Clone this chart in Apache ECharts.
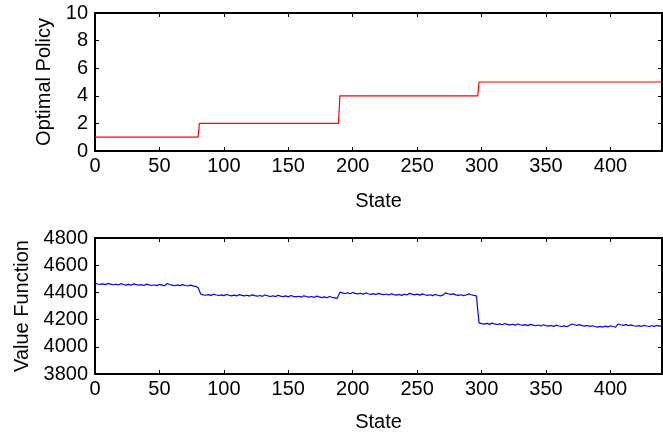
<!DOCTYPE html>
<html>
<head>
<meta charset="utf-8">
<script src="https://cdn.jsdelivr.net/npm/echarts@6/dist/echarts.min.js"></script>
<style>
  html, body { margin: 0; padding: 0; background: #fff; }
  #main { width: 663px; height: 433px; }
</style>
</head>
<body>
<div id="main"></div>
<script>
// optimal policy: step points (state, action)
const policyStates = [0, 80, 81, 189, 190, 297, 298, 440];
const policyValues = [1, 1, 2, 2, 4, 4, 5, 5];

// value function, one value every 2 states from 0 to 440
const valueStep = 2;
const valueFunction = [
  4468, 4462, 4459, 4463, 4457, 4466, 4461, 4456, 4460, 4455,
  4464, 4458, 4454, 4459, 4453, 4463, 4457, 4453, 4457, 4451,
  4461, 4455, 4451, 4456, 4450, 4459, 4453, 4449, 4465, 4458,
  4454, 4449, 4455, 4450, 4457, 4451, 4447, 4453, 4448, 4444,
  4436,
  4388, 4382, 4379, 4384, 4378, 4387, 4381, 4377, 4382, 4376,
  4385, 4379, 4375, 4380, 4374, 4384, 4378, 4374, 4379, 4373,
  4382, 4376, 4372, 4377, 4371, 4381, 4375, 4370, 4375, 4369,
  4379, 4373, 4369, 4374, 4367, 4377, 4371, 4367, 4372, 4365,
  4375, 4369, 4365, 4370, 4363, 4373, 4367, 4362, 4367, 4361,
  4370, 4364, 4360, 4356,
  4402, 4396, 4392, 4397, 4390, 4399, 4393, 4389, 4394, 4387,
  4396, 4390, 4386, 4391, 4384, 4393, 4387, 4383, 4388, 4381,
  4390, 4384, 4380, 4385, 4378, 4387, 4381, 4393, 4387, 4382,
  4387, 4380, 4389, 4383, 4378, 4383, 4376, 4385, 4379, 4375,
  4380, 4396, 4390, 4385, 4389, 4382, 4378, 4383, 4376, 4381,
  4389, 4383, 4378, 4374,
  4176, 4170, 4167, 4172, 4165, 4174, 4168, 4164, 4169, 4162,
  4171, 4165, 4161, 4166, 4159, 4168, 4162, 4158, 4163, 4156,
  4165, 4159, 4155, 4160, 4153, 4162, 4156, 4152, 4157, 4150,
  4159, 4153, 4149, 4154, 4147, 4156, 4168, 4162, 4158, 4163,
  4156, 4152, 4157, 4150, 4155, 4149, 4145, 4150, 4144, 4152,
  4146, 4155, 4149, 4145, 4168, 4162, 4158, 4163, 4156, 4161,
  4155, 4151, 4156, 4149, 4158, 4153, 4149, 4155, 4150, 4157,
  4152, 4156
];

const xTicks = { min: 0, max: 440, interval: 50 };
const policyAxis = { min: 0, max: 10, interval: 2 };
const valueAxis = { min: 3800, max: 4800, interval: 200 };

const font = 'Liberation Sans';
const tickSize = 20;
const nameSize = 20;

const chart = echarts.init(document.getElementById('main'));

function xAxisDef(gridIndex, pos, labelled, gap) {
  return {
    type: 'value',
    gridIndex: gridIndex,
    position: pos,
    min: xTicks.min, max: xTicks.max, interval: xTicks.interval,
    name: labelled ? 'State' : '',
    nameLocation: 'middle',
    nameGap: gap,
    nameTextStyle: { color: '#000', fontFamily: font, fontSize: tickSize },
    axisLine: { show: true, onZero: false, lineStyle: { color: '#000', width: 2 } },
    axisTick: { show: true, inside: true, length: 4, lineStyle: { color: '#000', width: 1 } },
    axisLabel: { show: labelled, color: '#000', fontFamily: font, fontSize: tickSize, margin: 5, showMaxLabel: false },
    splitLine: { show: false }
  };
}

function yAxisDef(gridIndex, pos, labelled, range, name, gap) {
  return {
    type: 'value',
    gridIndex: gridIndex,
    position: pos,
    min: range.min, max: range.max, interval: range.interval,
    name: labelled ? name : '',
    nameLocation: 'middle',
    nameGap: gap,
    nameTextStyle: { color: '#000', fontFamily: font, fontSize: nameSize },
    axisLine: { show: true, onZero: false, lineStyle: { color: '#000', width: 2 } },
    axisTick: { show: true, inside: true, length: 4, lineStyle: { color: '#000', width: 1 } },
    axisLabel: {
      show: labelled, color: '#000', fontFamily: font, fontSize: tickSize, margin: 7,
      formatter: v => String(v)
    },
    splitLine: { show: false }
  };
}

const policyData = policyStates.map((s, i) => [s, policyValues[i]]);
const valueData = valueFunction.map((v, i) => [i * valueStep, v]);

const option = {
  animation: false,
  backgroundColor: '#fff',
  grid: [
    { left: 95, top: 13, right: 1, height: 138 },
    { left: 95, top: 238, right: 1, height: 138 }
  ],
  xAxis: [
    xAxisDef(0, 'bottom', true, 40),
    xAxisDef(0, 'top', false, 0),
    xAxisDef(1, 'bottom', true, 38),
    xAxisDef(1, 'top', false, 0)
  ],
  yAxis: [
    yAxisDef(0, 'left', true, policyAxis, 'Optimal Policy', 40),
    yAxisDef(0, 'right', false, policyAxis, '', 0),
    yAxisDef(1, 'left', true, valueAxis, 'Value Function', 63),
    yAxisDef(1, 'right', false, valueAxis, '', 0)
  ],
  series: [
    {
      type: 'line',
      xAxisIndex: 0, yAxisIndex: 0,
      data: policyData,
      showSymbol: false,
      lineStyle: { color: '#ff0000', width: 1.2 }
    },
    {
      type: 'line',
      xAxisIndex: 2, yAxisIndex: 2,
      data: valueData,
      showSymbol: false,
      lineStyle: { color: '#0000ff', width: 1.2 }
    }
  ]
};

chart.setOption(option);
</script>
</body>
</html>
